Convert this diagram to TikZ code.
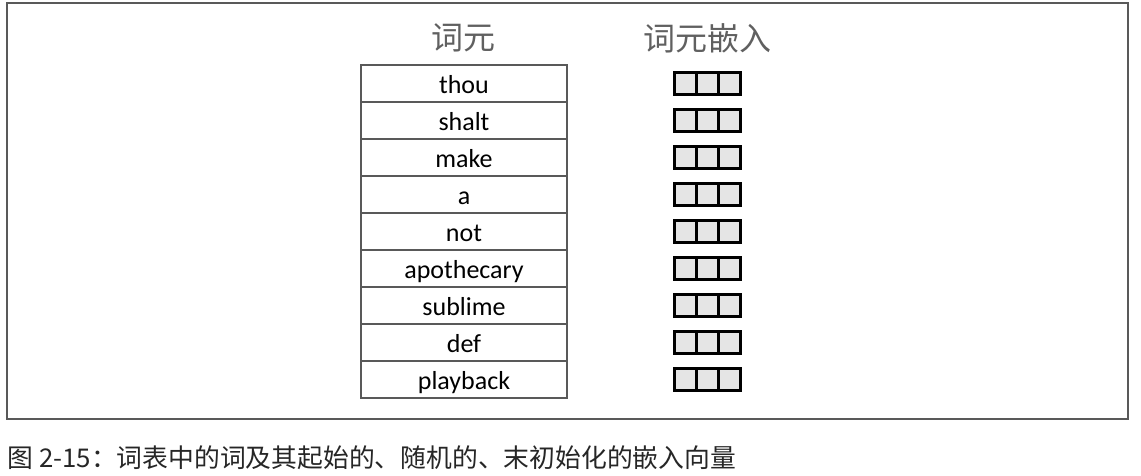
\documentclass[tikz,border=0pt]{standalone}
\usepackage{fontspec}
\setmainfont{Carlito}
\newfontfamily\cjk{Noto Sans CJK SC}
\usetikzlibrary{positioning}

\begin{document}
\begin{tikzpicture}[x=1pt, y=-1pt,
    tokcell/.style={draw=gray!70!black, line width=2.5pt, minimum width=206pt, minimum height=37pt,
        inner sep=0pt, outer sep=0pt, text height=21pt, text depth=1pt, font=\fontsize{26}{26}\selectfont},
    embcell/.style={draw=black, line width=3pt, fill=gray!20, minimum width=21.7pt, minimum height=22pt,
        inner sep=0pt, outer sep=0pt},
    header/.style={text=gray!75!black, font=\cjk\fontsize{32}{32}\selectfont}]
            \useasboundingbox (0,0) rectangle (1141,476);
            \draw [gray!70!black, line width=2pt] (7,3) rectangle (1128,419);
            \node [header] (tokhead) at (463, 38) {词元};
            \node [header] (embhead) at (707, 38) {词元嵌入};
            \foreach \w [count=\i from 0] in {thou,shalt,make,a,not,apothecary,sublime,def,playback}
            {
                \node [tokcell] (tok\i) at (464, {83.5+37*\i}) {\w};
                \node [embcell] (embb\i) at (707.5, {83.5+37*\i}) {};
                \node [embcell, left=0pt of embb\i] (emba\i) {};
                \node [embcell, right=0pt of embb\i] (embc\i) {};
            }
            \node [anchor=west, text=black!85, font=\cjk\fontsize{25.8}{25.8}\selectfont] (caption) at (4, 458)
                {图 2-15：词表中的词及其起始的、随机的、末初始化的嵌入向量};
        \end{tikzpicture}
\end{document}
